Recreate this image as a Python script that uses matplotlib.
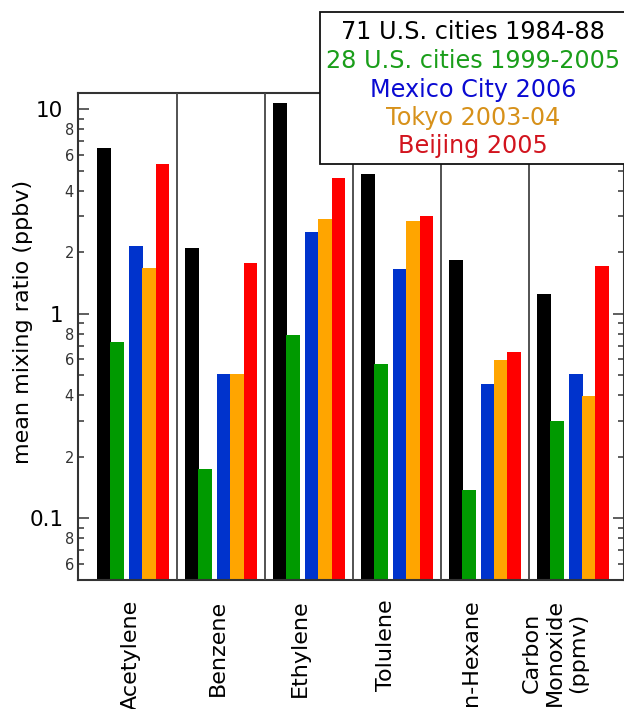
import numpy as np
import matplotlib.pyplot as plt
from matplotlib.patches import Rectangle
from matplotlib.ticker import FixedLocator, FixedFormatter

# compounds (x groups) and sources (bars in each group)
compounds = ['Acetylene', 'Benzene', 'Ethylene', 'Tolulene', 'n-Hexane',
             'Carbon\nMonoxide\n(ppmv)']
series = ['71 U.S. cities 1984-88', '28 U.S. cities 1999-2005',
          'Mexico City 2006', 'Tokyo 2003-04', 'Beijing 2005']

us_1984 = [6.45, 2.10, 10.7, 4.82, 1.83, 1.25]
us_1999 = [0.73, 0.175, 0.79, 0.57, 0.137, 0.30]
mexico = [2.15, 0.506, 2.51, 1.66, 0.456, 0.506]
tokyo = [1.68, 0.506, 2.90, 2.85, 0.598, 0.395]
beijing = [5.41, 1.77, 4.59, 3.02, 0.65, 1.71]
values = [us_1984, us_1999, mexico, tokyo, beijing]

bar_colors = ['#000000', '#009a00', '#0033cc', '#ffa500', '#ff0000']
text_colors = ['#000000', '#1a9e1a', '#0a0ad2', '#d7911a', '#d2141e']

# y tick labels
major_ticks = [0.1, 1, 10]
major_labels = ['0.1', '1', '10']
minor_ticks = [0.06, 0.07, 0.08, 0.09,
               0.2, 0.3, 0.4, 0.5, 0.6, 0.7, 0.8, 0.9,
               2, 3, 4, 5, 6, 7, 8, 9]
minor_labels = ['6', '', '8', '',
                '2', '', '4', '', '6', '', '8', '',
                '2', '', '4', '', '6', '', '8', '']

fig = plt.figure(figsize=(6.24, 7.09), dpi=100)
ax = fig.add_axes([0.125, 0.1819, 0.875, 0.6869])

x = np.arange(len(compounds))
step = 0.149
width = 0.157   # a little wider than the step so neighbours touch
offsets = [0.083, 0.083 + step, 0.453, 0.453 + step, 0.453 + 2 * step]
for vals, col, off in zip(values, bar_colors, offsets):
    ax.bar(x + off, vals, width=width, align='edge', color=col,
           linewidth=0, zorder=2)

# group separators
for i in range(1, len(compounds)):
    ax.axvline(i, color='#444444', lw=1.3, zorder=3)

ax.set_yscale('log')
ax.set_ylim(0.05, 12)
ax.set_xlim(-0.13, 6.075)

ax.yaxis.set_major_locator(FixedLocator(major_ticks))
ax.yaxis.set_major_formatter(FixedFormatter(major_labels))
ax.yaxis.set_minor_locator(FixedLocator(minor_ticks))
ax.yaxis.set_minor_formatter(FixedFormatter(minor_labels))
ax.tick_params(axis='y', which='both', direction='in', left=True, right=True,
               labelright=False, color='#333333', width=1.1)
ax.tick_params(axis='y', which='major', length=8, pad=10.5, labelsize=15.5)
ax.tick_params(axis='y', which='minor', length=4.5, pad=3, labelsize=10.5,
               labelcolor='#333333')

label_shift = [-0.035, -0.045, -0.11, -0.125, -0.16, -0.215]
ax.set_xticks(x + 0.5 + np.array(label_shift))
ax.set_xticklabels(compounds, rotation=90, va='top', ha='center',
                   multialignment='center', fontsize=16, linespacing=1.2)
ax.tick_params(axis='x', length=0, pad=14)

for s in ax.spines.values():
    s.set_color('#333333')
    s.set_linewidth(1.5)

ax.set_ylabel('mean mixing ratio (ppbv)', fontsize=16)
ax.yaxis.set_label_coords(-0.083, 0.53)

# legend box with coloured text lines
box = Rectangle((320 / 624, 1 - 164 / 709), 306 / 624, 152.3 / 709,
                transform=fig.transFigure, facecolor='white',
                edgecolor='#111111', lw=1.3, zorder=10)
fig.add_artist(box)
line_y = [31.7, 60.5, 89.5, 118, 146.5]
for name, col, yy in zip(series, text_colors, line_y):
    fig.text(473 / 624, 1 - yy / 709, name, color=col, ha='center',
             va='center', fontsize=17.2, zorder=11)

fig.savefig('out.png', dpi=100)
